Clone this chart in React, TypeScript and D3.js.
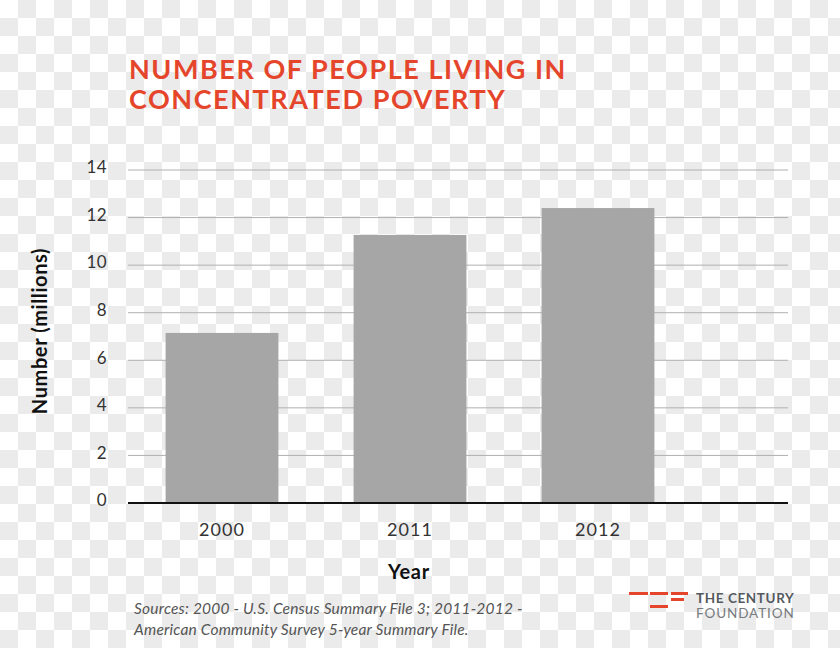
import React from "react";
import * as d3 from "d3";

const years = ["2000", "2011", "2012"];
const values = [7.15, 11.27, 12.4];
const yTicks = [0, 2, 4, 6, 8, 10, 12, 14];
const titleLines = ["NUMBER OF PEOPLE LIVING IN", "CONCENTRATED POVERTY"];
const sourceLines = [
  "Sources: 2000 - U.S. Census Summary File 3; 2011-2012 -",
  "American Community Survey 5-year Summary File.",
];
const yTitle = "Number (millions)";
const xTitle = "Year";

const W = 840;
const H = 648;
const plotLeft = 128;
const plotRight = 788;

export default function App() {
  const y = d3.scaleLinear().domain([0, 14]).range([503, 170]);
  const x = d3
    .scaleBand<string>()
    .domain(years)
    .range([plotLeft, 692])
    .paddingInner(0.4)
    .paddingOuter(0.2);

  return (
    <svg
      width={W}
      height={H}
      style={{ position: "absolute", left: 0, top: 0 }}
      fontFamily="Lato, 'Open Sans', sans-serif"
    >
      <defs>
        <pattern id="checker" width={36} height={36} patternUnits="userSpaceOnUse">
          <rect width={36} height={36} fill="#ffffff" />
          <rect x={18} y={0} width={18} height={18} fill="#ebebeb" />
          <rect x={0} y={18} width={18} height={18} fill="#ebebeb" />
        </pattern>
      </defs>
      <rect width={W} height={H} fill="url(#checker)" />

      {titleLines.map((t, i) => (
        <text
          key={t}
          x={129}
          y={79 + i * 30}
          fill="#e5462b"
          fontSize={27}
          fontWeight={700}
          letterSpacing={1.55}
        >
          {t}
        </text>
      ))}

      {yTicks.slice(1).map((t) => (
        <line
          key={"g" + t}
          x1={plotLeft}
          x2={plotRight}
          y1={y(t)}
          y2={y(t)}
          stroke="#b0b0b0"
          strokeWidth={1}
        />
      ))}

      {yTicks.map((t) => (
        <text
          key={"t" + t}
          x={107}
          y={y(t) - 1}
          textAnchor="end"
          fontSize={17}
          letterSpacing={0.4}
          fill="#333"
          dominantBaseline="middle"
        >
          {t}
        </text>
      ))}

      {years.map((yr, i) => (
        <rect
          key={yr}
          x={x(yr)}
          y={y(values[i])}
          width={x.bandwidth()}
          height={y(0) - y(values[i])}
          fill="#a6a6a6"
        />
      ))}

      <line x1={plotLeft} x2={plotRight} y1={y(0)} y2={y(0)} stroke="#111" strokeWidth={2} />

      {years.map((yr) => (
        <text
          key={"x" + yr}
          x={(x(yr) as number) + x.bandwidth() / 2}
          y={536}
          textAnchor="middle"
          fontSize={18}
          letterSpacing={1}
          fill="#333"
        >
          {yr}
        </text>
      ))}

      <text
        transform={`translate(47,331) rotate(-90)`}
        textAnchor="middle"
        fontSize={20}
        fontWeight={700}
        letterSpacing={0.6}
        fill="#111"
      >
        {yTitle}
      </text>
      <text x={409} y={579} textAnchor="middle" fontSize={20} fontWeight={700} letterSpacing={0.8} fill="#111">
        {xTitle}
      </text>

      {sourceLines.map((s, i) => (
        <text
          key={s}
          x={134}
          y={614 + i * 21}
          fontSize={15.5}
          letterSpacing={0.2}
          fontStyle="italic"
          fill="#555"
        >
          {s}
        </text>
      ))}

      <g fill="#e5462b">
        <rect x={629} y={592} width={19} height={3} />
        <rect x={650} y={592} width={18} height={3} />
        <rect x={671} y={592} width={17} height={3} />
        <rect x={671} y={598} width={13} height={3} />
        <rect x={650} y={605} width={18} height={3} />
      </g>
      <text x={696} y={603} fontSize={13.5} fontWeight={700} letterSpacing={0.6} fill="#555a60">
        THE CENTURY
      </text>
      <text x={696} y={618} fontSize={13.5} letterSpacing={0.9} fill="#777b80">
        FOUNDATION
      </text>
    </svg>
  );
}
